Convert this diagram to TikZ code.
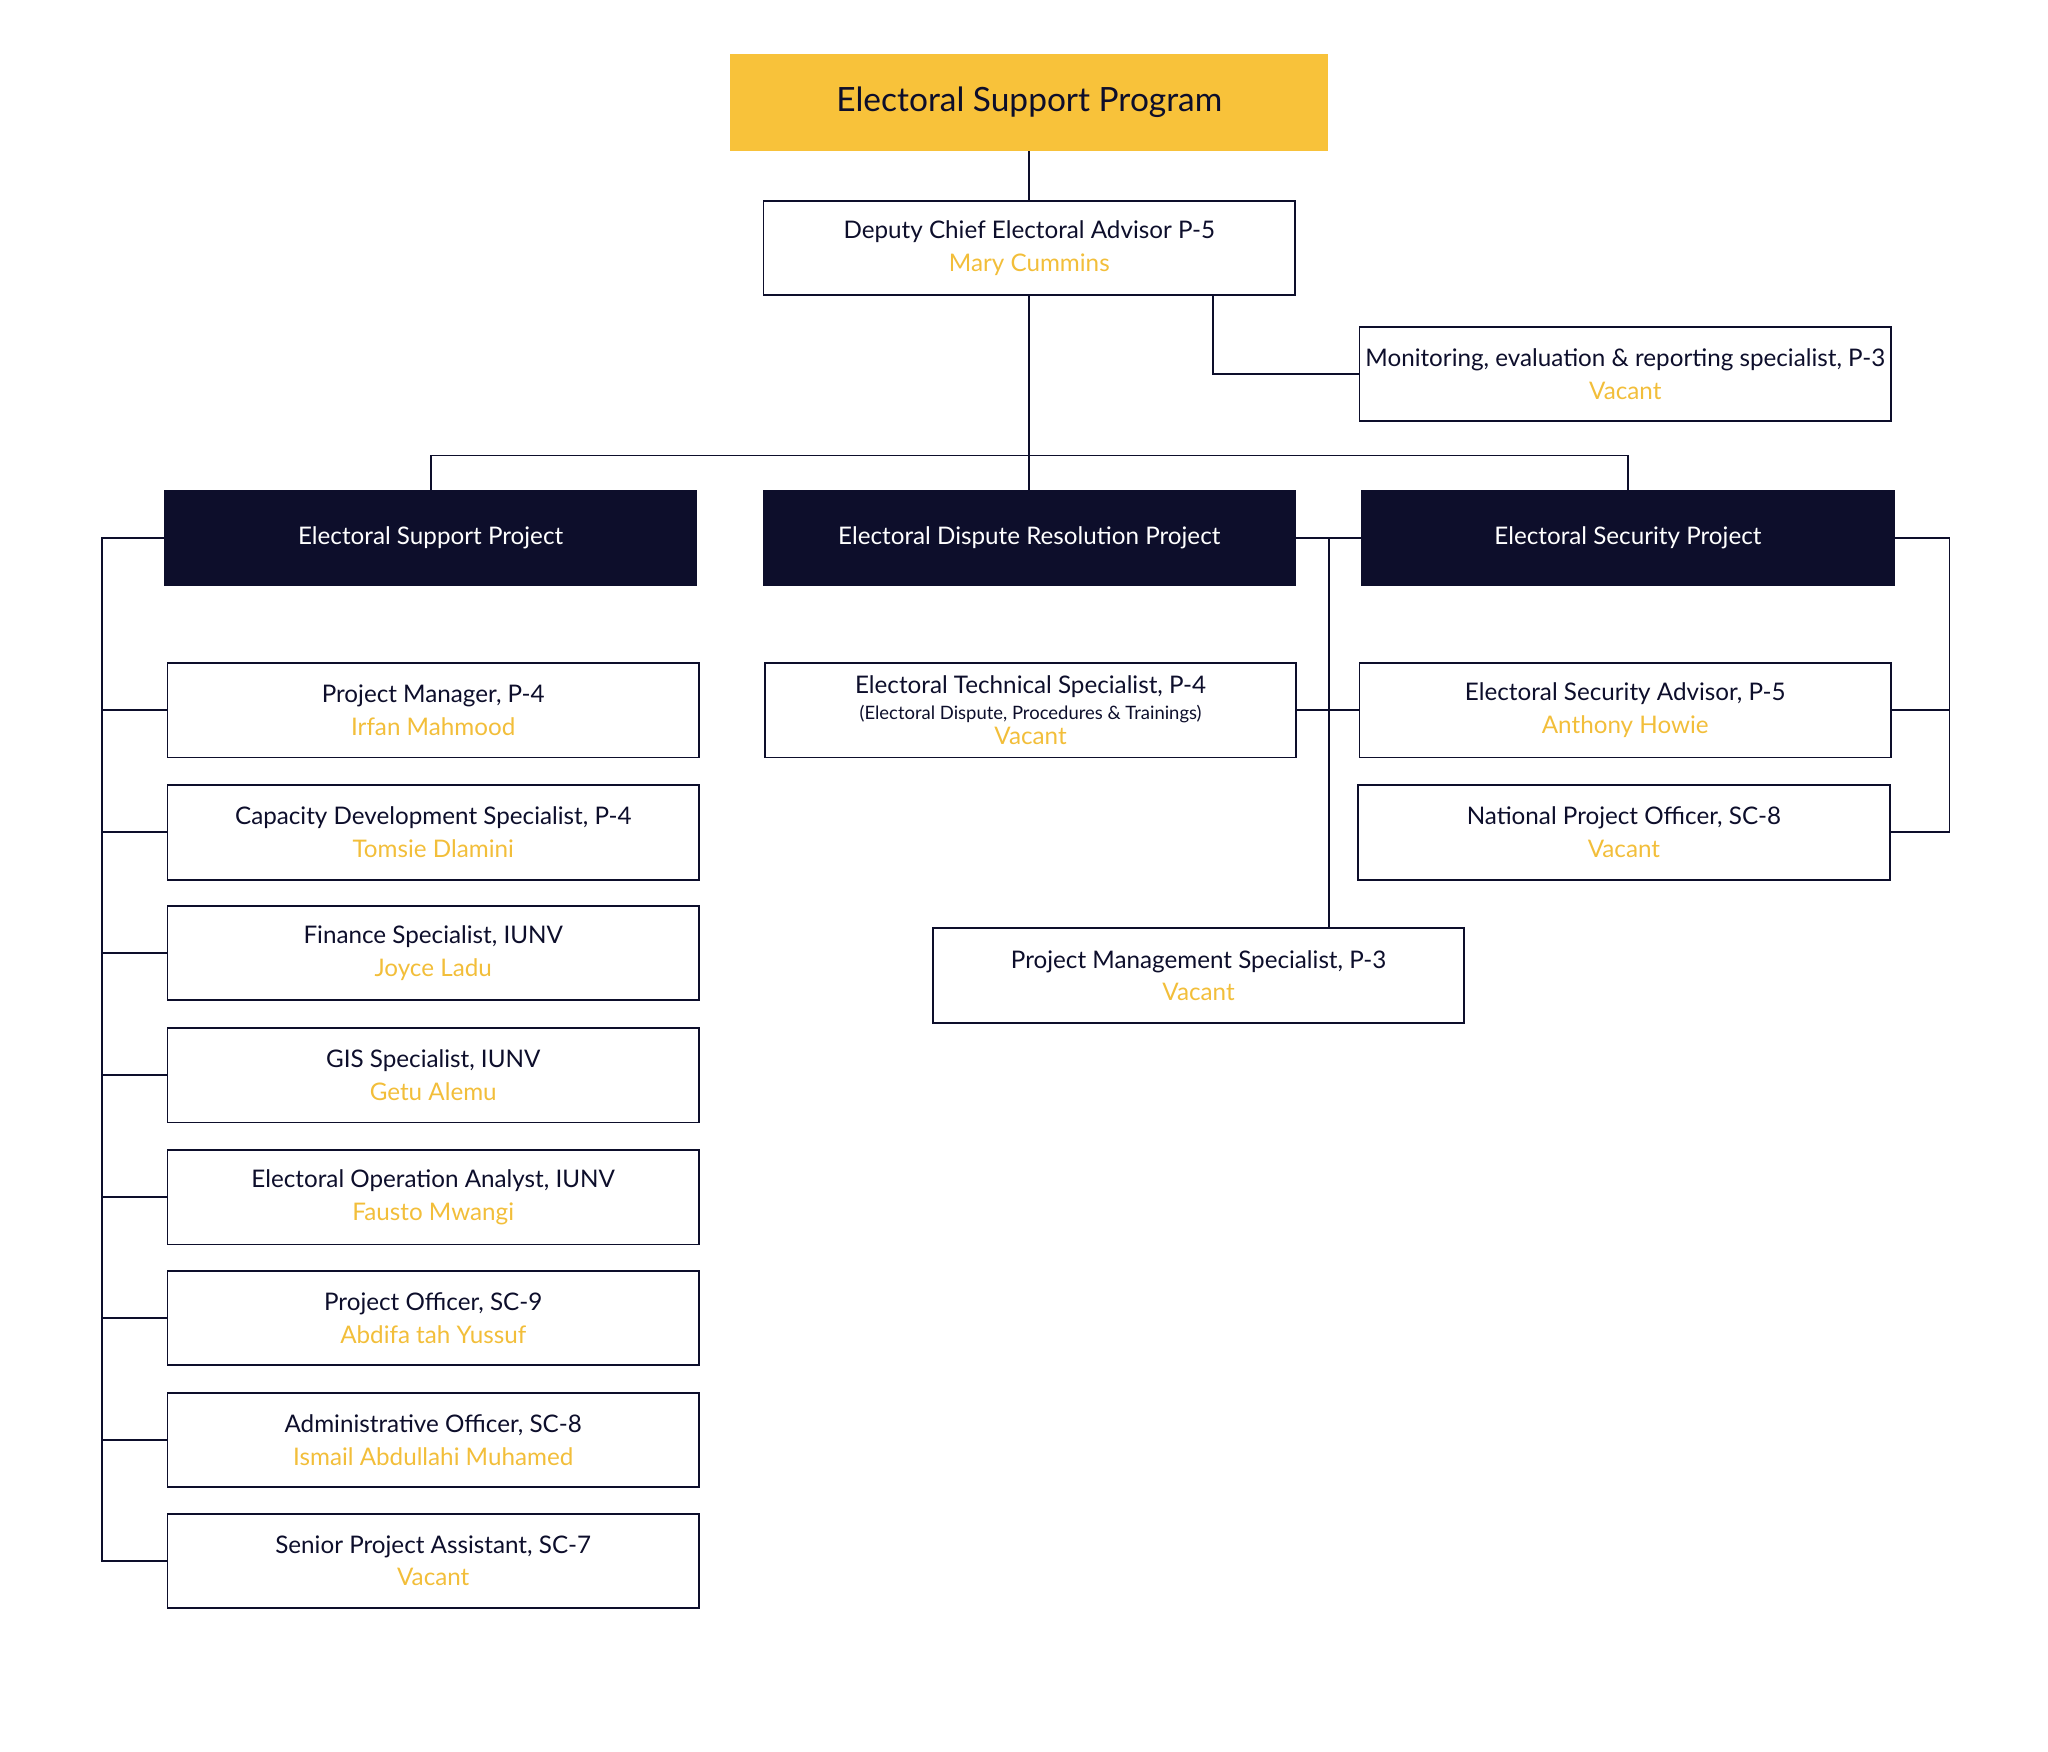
\documentclass[tikz,border=0pt]{standalone}
\usepackage{fontspec}
\setmainfont{Lato}
\definecolor{gold}{HTML}{F8C23A}
\definecolor{navy}{HTML}{0D0E2B}
\definecolor{namecol}{HTML}{F2BE3A}
\newcommand{\who}[1]{\\{\color{namecol}#1}}
\begin{document}
\begin{tikzpicture}[x=0.02cm,y=-0.02cm]
\useasboundingbox (0,0) rectangle (1560,1334);
\begin{scope}[every node/.style={draw=navy,thick,align=center,inner sep=2pt,minimum width=8.1cm,minimum height=1.44cm,font=\fontsize{10.5}{14}\selectfont,text=navy}]
    \node (prog)[fill=gold,draw=gold,minimum width=9.08cm,minimum height=1.46cm,font=\fontsize{14.5}{17}\selectfont] at (784,78) {Electoral Support Program};
    \node (dep) at (784,189) {Deputy Chief Electoral Advisor P-5\who{Mary Cummins}};
    \node (mon) at (1238,285) {Monitoring, evaluation \& reporting specialist, P-3\who{Vacant}};
    \node (esp)[fill=navy,text=white] at (328,410) {Electoral Support Project};
    \node (edr)[fill=navy,text=white] at (784,410) {Electoral Dispute Resolution Project};
    \node (esec)[fill=navy,text=white] at (1240,410) {Electoral Security Project};
    \node (pm) at (330,541) {Project Manager, P-4\who{Irfan Mahmood}};
    \node (cds) at (330,634) {Capacity Development Specialist, P-4\who{Tomsie Dlamini}};
    \node (fin) at (330,726) {Finance Specialist, IUNV\who{Joyce Ladu}};
    \node (gis) at (330,819) {GIS Specialist, IUNV\who{Getu Alemu}};
    \node (eoa) at (330,912) {Electoral Operation Analyst, IUNV\who{Fausto Mwangi}};
    \node (po) at (330,1004) {Project Officer, SC-9\who{Abdifa tah Yussuf}};
    \node (ao) at (330,1097) {Administrative Officer, SC-8\who{Ismail Abdullahi Muhamed}};
    \node (spa) at (330,1189) {Senior Project Assistant, SC-7\who{Vacant}};
    \node (ets)[font=\fontsize{10.5}{11}\selectfont] at (785,541) {Electoral Technical Specialist, P-4\\{\fontsize{8}{9}\selectfont (Electoral Dispute, Procedures \& Trainings)}\who{Vacant}};
    \node (pms) at (913,743) {Project Management Specialist, P-3\who{Vacant}};
    \node (esa) at (1238,541) {Electoral Security Advisor, P-5\who{Anthony Howie}};
    \node (npo) at (1237,634) {National Project Officer, SC-8\who{Vacant}};
\end{scope}

\begin{scope}[every path/.style={draw=navy,thick}]
    \coordinate (bus) at (78,410);
    \coordinate (mid) at (1012,410);
    \coordinate (rbus) at (1485,410);
    \path (prog) -- (dep);
    \path (dep.south) -- (784,347) -| (esp.north);
    \path (784,347) -| (esec.north);
    \path (784,347) -- (edr.north);
    \path (924,225) |- (mon.west);
    \path (esp.west) -- (bus) |- (spa.west);
    \foreach \n in {pm,cds,fin,gis,eoa,po,ao}
        \path (bus |- \n.west) -- (\n.west);
    \path (edr.east) -- (esec.west);
    \path (mid) -- (mid |- pms.north);
    \path (ets.east) -- (esa.west);
    \path (esec.east) -- (rbus) |- (npo.east);
    \path (esa.east) -- (rbus |- esa.east);
\end{scope}
\end{tikzpicture}
\end{document}
